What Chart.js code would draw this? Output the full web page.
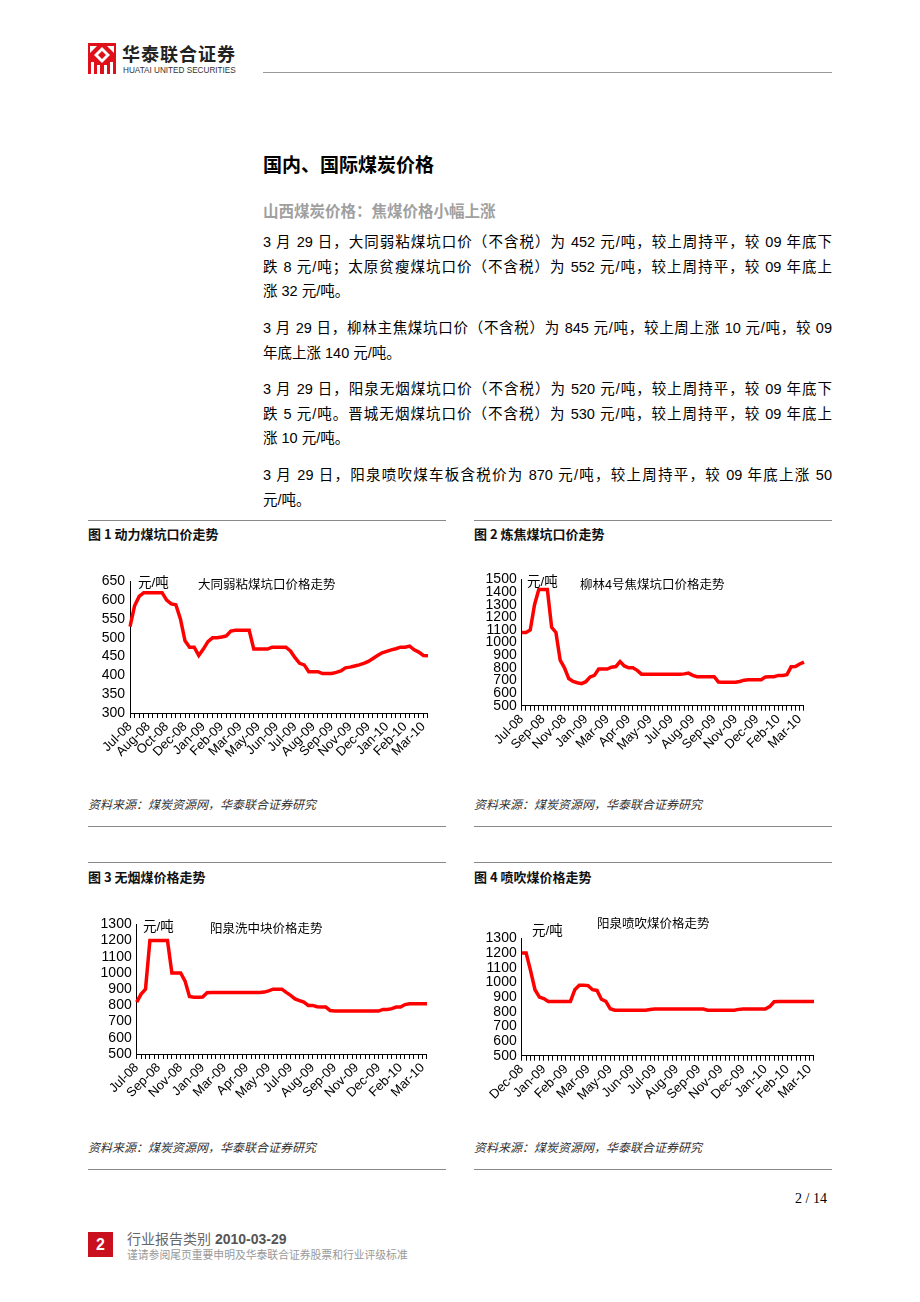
<!DOCTYPE html>
<html>
<head>
<meta charset="utf-8">
<script src="https://cdn.jsdelivr.net/npm/chart.js@4.4.1/dist/chart.umd.min.js"></script>
<style>
  html, body { margin: 0; padding: 0; background: #fff; }
  #page { position: relative; width: 920px; height: 1302px; overflow: hidden; font-family: "Liberation Sans", "Noto Sans CJK SC", sans-serif; color: #000; }
  .abs { position: absolute; white-space: nowrap; }
  .hline { position: absolute; height: 0; border-top: 1px solid #888; }
  .body-line { position: absolute; left: 263px; width: 569px; font-size: 14.5px; line-height: 24.5px; white-space: nowrap; }
  .full { text-align: justify; text-align-last: justify; }
  .cap { font-family: "Noto Sans CJK SC", sans-serif; font-size: 13px; font-weight: 600; color: #111; }
  .src { font-family: "Noto Sans CJK SC", sans-serif; font-size: 12px; font-style: italic; color: #333; }
  .unit { font-family: "Liberation Sans", "Noto Sans CJK SC", sans-serif; font-size: 13.5px; color: #000; }
  .ctitle { font-family: "Liberation Sans", "Noto Sans CJK SC", sans-serif; font-size: 12.5px; color: #000; }
  canvas { position: absolute; }
</style>
</head>
<body>
<div id="page">
  <!-- header -->
  <svg class="abs" style="left:88px;top:43px" width="28" height="31" viewBox="0 0 28 31">
    <rect width="28" height="31" fill="#e0101a"/>
    <polygon points="14,4 22,12 14,20 6,12" fill="#fff"/>
    <polygon points="14,8 18,12 14,16 10,12" fill="#e0101a"/>
    <polygon points="2,3 9,3 2,10" fill="#fff"/>
    <polygon points="26,3 19,3 26,10" fill="#fff"/>
    <rect x="3" y="19" width="3" height="12" fill="#fff"/>
    <rect x="9" y="22" width="3" height="9" fill="#fff"/>
    <rect x="16" y="22" width="3" height="9" fill="#fff"/>
    <rect x="22" y="19" width="3" height="12" fill="#fff"/>
  </svg>
  <div class="abs" style="left:122px;top:40px;font-family:'Noto Sans CJK SC';font-weight:700;font-size:18px;letter-spacing:1px;color:#222">华泰联合证券</div>
  <div class="abs" style="left:123px;top:64px;font-family:'Liberation Sans';font-size:9.5px;color:#333;transform:scaleX(0.86);transform-origin:0 0">HUATAI UNITED SECURITIES</div>
  <div class="hline" style="left:263px;top:72px;width:569px;border-color:#999"></div>

  <!-- text -->
  <div class="abs" style="left:263px;top:150px;font-family:'Noto Sans CJK SC';font-weight:700;font-size:19px;line-height:28px">国内、国际煤炭价格</div>
  <div class="abs" style="left:263px;top:198px;font-family:'Noto Sans CJK SC';font-weight:700;font-size:15.5px;line-height:24px;color:#a0a0a0">山西煤炭价格：焦煤价格小幅上涨</div>

  <div class="body-line full" style="top:230px">3 月 29 日，大同弱粘煤坑口价（不含税）为 452 元/吨，较上周持平，较 09 年底下</div>
  <div class="body-line full" style="top:254.5px">跌 8 元/吨；太原贫瘦煤坑口价（不含税）为 552 元/吨，较上周持平，较 09 年底上</div>
  <div class="body-line" style="top:279px">涨 32 元/吨。</div>

  <div class="body-line full" style="top:316px">3 月 29 日，柳林主焦煤坑口价（不含税）为 845 元/吨，较上周上涨 10 元/吨，较 09</div>
  <div class="body-line" style="top:340.5px">年底上涨 140 元/吨。</div>

  <div class="body-line full" style="top:377px">3 月 29 日，阳泉无烟煤坑口价（不含税）为 520 元/吨，较上周持平，较 09 年底下</div>
  <div class="body-line full" style="top:401.5px">跌 5 元/吨。晋城无烟煤坑口价（不含税）为 530 元/吨，较上周持平，较 09 年底上</div>
  <div class="body-line" style="top:426px">涨 10 元/吨。</div>

  <div class="body-line full" style="top:463px">3 月 29 日，阳泉喷吹煤车板含税价为 870 元/吨，较上周持平，较 09 年底上涨 50</div>
  <div class="body-line" style="top:487.5px">元/吨。</div>

  <!-- figure frames -->
  <div class="hline" style="left:88px;top:520px;width:358px"></div>
  <div class="hline" style="left:474px;top:520px;width:358px"></div>
  <div class="abs cap" style="left:88px;top:524px">图 1 动力煤坑口价走势</div>
  <div class="abs cap" style="left:474px;top:524px">图 2 炼焦煤坑口价走势</div>
  <div class="abs src" style="left:88px;top:795px">资料来源：煤炭资源网，华泰联合证券研究</div>
  <div class="abs src" style="left:474px;top:795px">资料来源：煤炭资源网，华泰联合证券研究</div>
  <div class="hline" style="left:88px;top:826px;width:358px"></div>
  <div class="hline" style="left:474px;top:826px;width:358px"></div>

  <div class="hline" style="left:88px;top:862px;width:358px"></div>
  <div class="hline" style="left:474px;top:862px;width:358px"></div>
  <div class="abs cap" style="left:88px;top:867px">图 3 无烟煤价格走势</div>
  <div class="abs cap" style="left:474px;top:867px">图 4 喷吹煤价格走势</div>
  <div class="abs src" style="left:88px;top:1138px">资料来源：煤炭资源网，华泰联合证券研究</div>
  <div class="abs src" style="left:474px;top:1138px">资料来源：煤炭资源网，华泰联合证券研究</div>
  <div class="hline" style="left:88px;top:1169px;width:358px"></div>
  <div class="hline" style="left:474px;top:1169px;width:358px"></div>

  <canvas id="c1" width="352" height="205" style="left:88px;top:568px"></canvas>
  <canvas id="c2" width="342" height="200" style="left:474px;top:566px"></canvas>
  <canvas id="c3" width="351" height="203" style="left:88px;top:911px"></canvas>
  <canvas id="c4" width="352" height="191" style="left:474px;top:925px"></canvas>

  <div class="abs unit" style="left:138px;top:571px">元/吨</div>
  <div class="abs ctitle" style="left:198px;top:574px">大同弱粘煤坑口价格走势</div>
  <div class="abs unit" style="left:527px;top:570px">元/吨</div>
  <div class="abs ctitle" style="left:580px;top:574px">柳林4号焦煤坑口价格走势</div>
  <div class="abs unit" style="left:143px;top:915px">元/吨</div>
  <div class="abs ctitle" style="left:210px;top:918px">阳泉洗中块价格走势</div>
  <div class="abs unit" style="left:532px;top:919px">元/吨</div>
  <div class="abs ctitle" style="left:597px;top:913px">阳泉喷吹煤价格走势</div>

  <!-- footer -->
  <div class="abs" style="left:795px;top:1191px;font-family:'Liberation Serif';font-size:14px">2 / 14</div>
  <div class="abs" style="left:88px;top:1232px;width:25px;height:25px;background:#c8101e;color:#fff;font-weight:700;font-size:16px;line-height:25px;text-align:center">2</div>
  <div class="abs" style="left:127px;top:1228px;font-size:14px;color:#666"><span style="font-family:'Noto Sans CJK SC'">行业报告类别</span> <b style="color:#555">2010-03-29</b></div>
  <div class="abs" style="left:127px;top:1246px;font-family:'Noto Sans CJK SC';font-size:10.8px;color:#999">谨请参阅尾页重要申明及华泰联合证券股票和行业评级标准</div>
</div>

<script>
// 大同弱粘煤坑口价 (元/吨)
const datongLabels = ['Jul-08','Aug-08','Oct-08','Dec-08','Jan-09','Feb-09','Mar-09','May-09','Jun-09',
  'Jul-09','Aug-09','Sep-09','Nov-09','Dec-09','Jan-10','Feb-10','Mar-10'];
const datongPrice = [530,585,610,620,620,620,620,620,600,590,
  588,550,492,475,475,453,470,490,500,500,
  502,505,518,520,520,520,520,470,470,470,
  470,475,475,475,475,465,447,432,428,410,
  410,410,405,405,405,408,412,420,422,425,
  428,432,437,445,453,460,464,468,471,475,
  475,478,468,462,453,452];

// 柳林4号焦煤坑口价
const liulinLabels = ['Jul-08','Sep-08','Nov-08','Jan-09','Mar-09','Apr-09','May-09','Jul-09',
  'Aug-09','Sep-09','Nov-09','Dec-09','Feb-10','Mar-10'];
const liulinPrice = [1080,1080,1100,1300,1420,1420,1420,1120,1080,860,
  800,715,692,682,675,690,728,740,790,790,
  790,805,810,850,815,800,800,780,750,750,
  750,750,750,750,750,750,750,750,752,758,
  740,730,730,730,730,730,688,685,685,685,
  685,692,702,705,705,705,705,728,730,730,
  740,740,745,808,810,830,845];

// 阳泉洗中块
const yqBlockLabels = ['Jul-08','Sep-08','Nov-08','Jan-09','Mar-09','Apr-09','May-09','Jul-09',
  'Aug-09','Sep-09','Nov-09','Dec-09','Feb-10','Mar-10'];
const yqBlockPrice = [820,870,900,1200,1200,1200,1200,1200,1000,1000,
  1000,950,855,850,850,852,878,880,880,880,
  880,880,880,880,880,880,880,880,880,882,
  890,900,900,900,880,862,840,830,820,800,
  800,792,790,790,768,765,765,765,765,765,
  765,765,765,765,765,765,775,775,780,790,
  790,805,810,810,810,810,810];

// 阳泉喷吹煤
const yqPciLabels = ['Dec-08','Jan-09','Feb-09','Mar-09','May-09','Jun-09','Jul-09','Aug-09',
  'Sep-09','Nov-09','Dec-09','Jan-10','Feb-10','Mar-10'];
const yqPciPrice = [1200,1200,1080,950,900,890,870,870,870,870,
  870,870,950,980,980,978,950,945,885,870,
  820,810,810,810,810,810,810,810,810,815,
  818,818,818,818,818,818,818,818,818,818,
  818,818,810,810,810,810,810,810,810,816,
  818,818,818,818,818,818,835,868,870,870,
  870,870,870,870,870,870,870];

// 画折线图, box 是画布在页面上的位置与绘图区
function drawChart(id, values, tickLabels, step, yMin, yMax, yStep, box) {
  const labels = values.map((v, i) => i % step === 0 ? (tickLabels[i / step] || '') : '');
  const font = { family: 'Liberation Sans', size: 13 };
  new Chart(document.getElementById(id), {
    type: 'line',
    data: {
      labels: labels,
      datasets: [{
        data: values,
        borderColor: '#ff0000',
        borderWidth: 3.5,
        pointRadius: 0,
        tension: 0,
        fill: false
      }]
    },
    options: {
      responsive: false,
      animation: false,
      layout: { padding: { top: box.plotTop - box.top, right: box.left + box.width - box.plotRight, left: 0, bottom: 0 } },
      plugins: { legend: { display: false }, tooltip: { enabled: false } },
      scales: {
        x: {
          grid: { display: true, drawOnChartArea: false, drawTicks: true, tickLength: 5, color: '#000', lineWidth: 1 },
          border: { display: true, color: '#000', width: 1 },
          ticks: { autoSkip: false, maxRotation: 45, minRotation: 45, color: '#000', font: font, padding: 1 },
          afterFit: s => { s.height = box.top + box.height - box.plotBottom; }
        },
        y: {
          min: yMin,
          max: yMax,
          grid: { display: false, drawTicks: false },
          border: { display: true, color: '#000', width: 1 },
          ticks: {
            stepSize: yStep, autoSkip: false, color: '#000',
            font: { family: 'Liberation Sans', size: 14 }, padding: 5,
            callback: v => String(v)
          },
          afterFit: s => { s.width = box.plotLeft - box.left; }
        }
      }
    }
  });
}

drawChart('c1', datongPrice, datongLabels, 4, 300, 650, 50,
  { left: 88, top: 568, width: 352, height: 205, plotLeft: 130, plotRight: 432, plotTop: 578.3, plotBottom: 713 });
drawChart('c2', liulinPrice, liulinLabels, 5, 500, 1500, 100,
  { left: 474, top: 566, width: 342, height: 200, plotLeft: 521.7, plotRight: 810, plotTop: 576.7, plotBottom: 705.7 });
drawChart('c3', yqBlockPrice, yqBlockLabels, 5, 500, 1300, 100,
  { left: 88, top: 911, width: 351, height: 203, plotLeft: 136.7, plotRight: 433, plotTop: 921.7, plotBottom: 1054 });
drawChart('c4', yqPciPrice, yqPciLabels, 5, 500, 1300, 100,
  { left: 474, top: 925, width: 352, height: 191, plotLeft: 521.7, plotRight: 820, plotTop: 935.7, plotBottom: 1055.7 });
</script>
</body>
</html>
